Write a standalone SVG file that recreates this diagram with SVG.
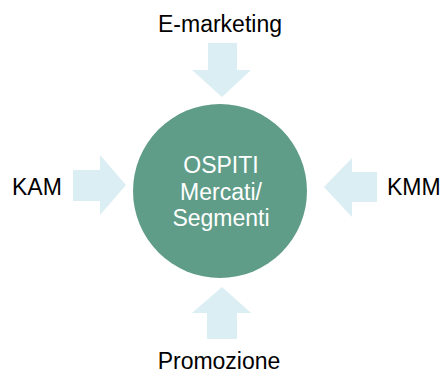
<svg xmlns="http://www.w3.org/2000/svg" width="441" height="374" viewBox="0 0 441 374">
  <style>
    .arrow { fill: #DAEEF3; }
    .hub { fill: #609D89; }
    .label { font-family: "Liberation Sans", Arial, sans-serif; font-size: 23px; fill: #000000; }
    .hub-text { font-family: "Liberation Sans", Arial, sans-serif; font-size: 23px; fill: #FFFFFF; text-anchor: middle; }
  </style>
  <rect width="441" height="374" fill="#FFFFFF"/>

  <g id="connectors">
    <!-- top: pointing down -->
    <polygon class="arrow" points="208,43 237,43 237,70 251,70 222,97 192,70 208,70"/>
    <!-- left: pointing right -->
    <polygon class="arrow" points="73,170 100,170 100,155 126,185 100,215 100,201 73,201"/>
    <!-- right: pointing left -->
    <polygon class="arrow" points="377,172 352,172 352,158 324,187 352,217 352,202 377,202"/>
    <!-- bottom: pointing up -->
    <polygon class="arrow" points="207,339 237,339 237,313 251,313 222,287 192,313 207,313"/>
  </g>

  <g id="hub">
    <circle class="hub" cx="220" cy="191" r="87"/>
    <text class="hub-text" x="221" y="173">OSPITI</text>
    <text class="hub-text" x="221" y="199.5">Mercati/</text>
    <text class="hub-text" x="221" y="226">Segmenti</text>
  </g>

  <g id="e-marketing">
    <text class="label" x="220" y="32" text-anchor="middle">E-marketing</text>
  </g>
  <g id="kam">
    <text class="label" x="12" y="195">KAM</text>
  </g>
  <g id="kmm">
    <text class="label" x="387" y="195">KMM</text>
  </g>
  <g id="promozione">
    <text class="label" x="219" y="369" text-anchor="middle">Promozione</text>
  </g>
</svg>
